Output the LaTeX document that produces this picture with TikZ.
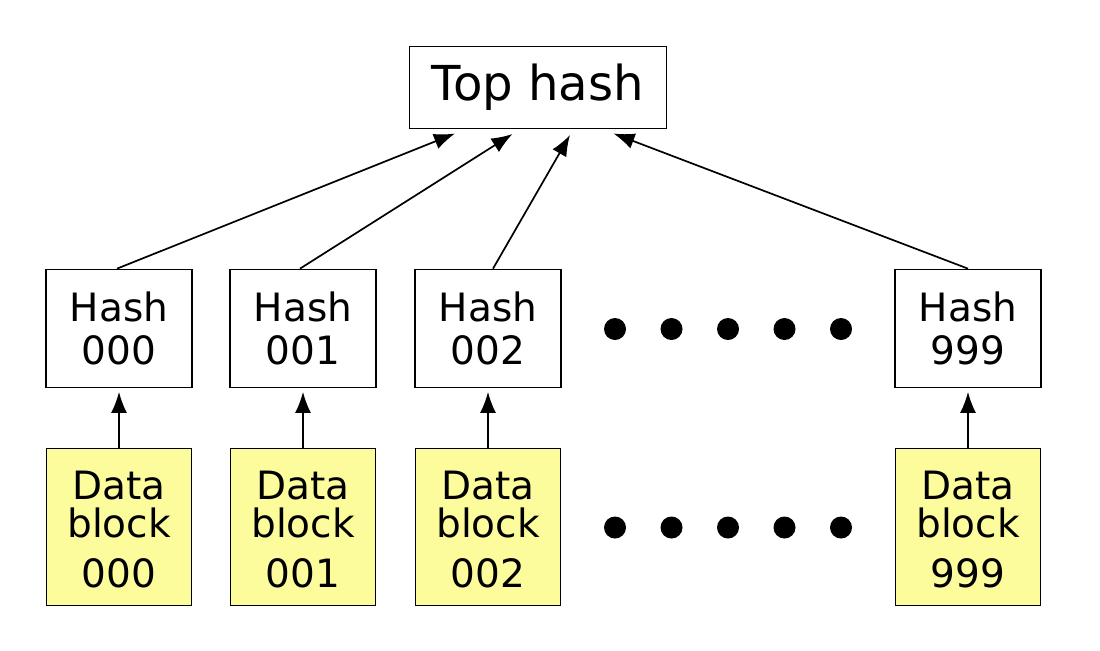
\documentclass[tikz,border=0pt]{standalone}
\usepackage{fontspec}
\setmainfont{DejaVu Sans}
\usetikzlibrary{arrows.meta}

\newlength{\du}
\setlength{\du}{0.2mm}

\definecolor{blockyellow}{rgb}{0.988, 0.988, 0.612}

\tikzset{
  hashbox/.style={draw, line width=1.7\du, fill=white, minimum width=146\du,
    minimum height=118\du, inner sep=0pt, align=center,
    font=\fontsize{22.2pt}{24.4pt}\selectfont},
  databox/.style={draw, line width=1.7\du, fill=blockyellow, minimum width=145\du,
    minimum height=157\du, inner sep=0pt, align=center,
    font=\fontsize{22.2pt}{21.6pt}\selectfont},
  topbox/.style={draw, line width=1.7\du, fill=white, minimum width=257\du,
    minimum height=82\du, inner sep=0pt,
    font=\fontsize{27.4pt}{30pt}\selectfont},
  hasharrow/.style={line width=1.7\du, -{Latex[length=4.2mm, width=3.2mm]}},
  dotmark/.style={fill=black}
}

\begin{document}
\begin{tikzpicture}
\pgftransformxscale{1.000000}
\pgftransformyscale{-1.000000}
\useasboundingbox (0\du,0\du) rectangle (1100\du,650\du);

\node[topbox] (top) at (538\du,87.5\du) {Top hash\hspace{21\du}};

\node[hashbox] (h000) at (119\du,328.5\du) {Hash\\000};
\node[hashbox] (h001) at (303\du,328.5\du) {Hash\\001};
\node[hashbox] (h002) at (488\du,328.5\du) {Hash\\002};
\node[hashbox] (h999) at (968\du,328.5\du) {Hash\\999};

\node[databox] (d000) at (119\du,527\du) {\\[-5\du]Data\\block\\[7pt]000};
\node[databox] (d001) at (303\du,527\du) {\\[-5\du]Data\\block\\[7pt]001};
\node[databox] (d002) at (488\du,527\du) {\\[-5\du]Data\\block\\[7pt]002};
\node[databox] (d999) at (968\du,527\du) {\\[-5\du]Data\\block\\[7pt]999};

% tips under the top hash
\coordinate (t000) at (455\du,133.5\du);
\coordinate (t001) at (512.5\du,134\du);
\coordinate (t002) at (570\du,135\du);
\coordinate (t999) at (613.5\du,133.5\du);

\draw[hasharrow] ([xshift=-0.4mm]h000.north) -- (t000);
\draw[hasharrow] ([xshift=-0.6mm]h001.north) -- (t001);
\draw[hasharrow] ([xshift=1mm]h002.north) -- (t002);
\draw[hasharrow] (h999.north) -- (t999);

\draw[hasharrow, shorten >=0.7mm] (d000) -- (h000);
\draw[hasharrow, shorten >=0.7mm] (d001) -- (h001);
\draw[hasharrow, shorten >=0.7mm] (d002) -- (h002);
\draw[hasharrow, shorten >=0.7mm] (d999) -- (h999);

\foreach \x in {615,671.5,728,784.5,841} {
  \fill[dotmark] (\x\du,329\du) circle (11\du);
  \fill[dotmark] (\x\du,527.5\du) circle (11\du);
}
\end{tikzpicture}
\end{document}
